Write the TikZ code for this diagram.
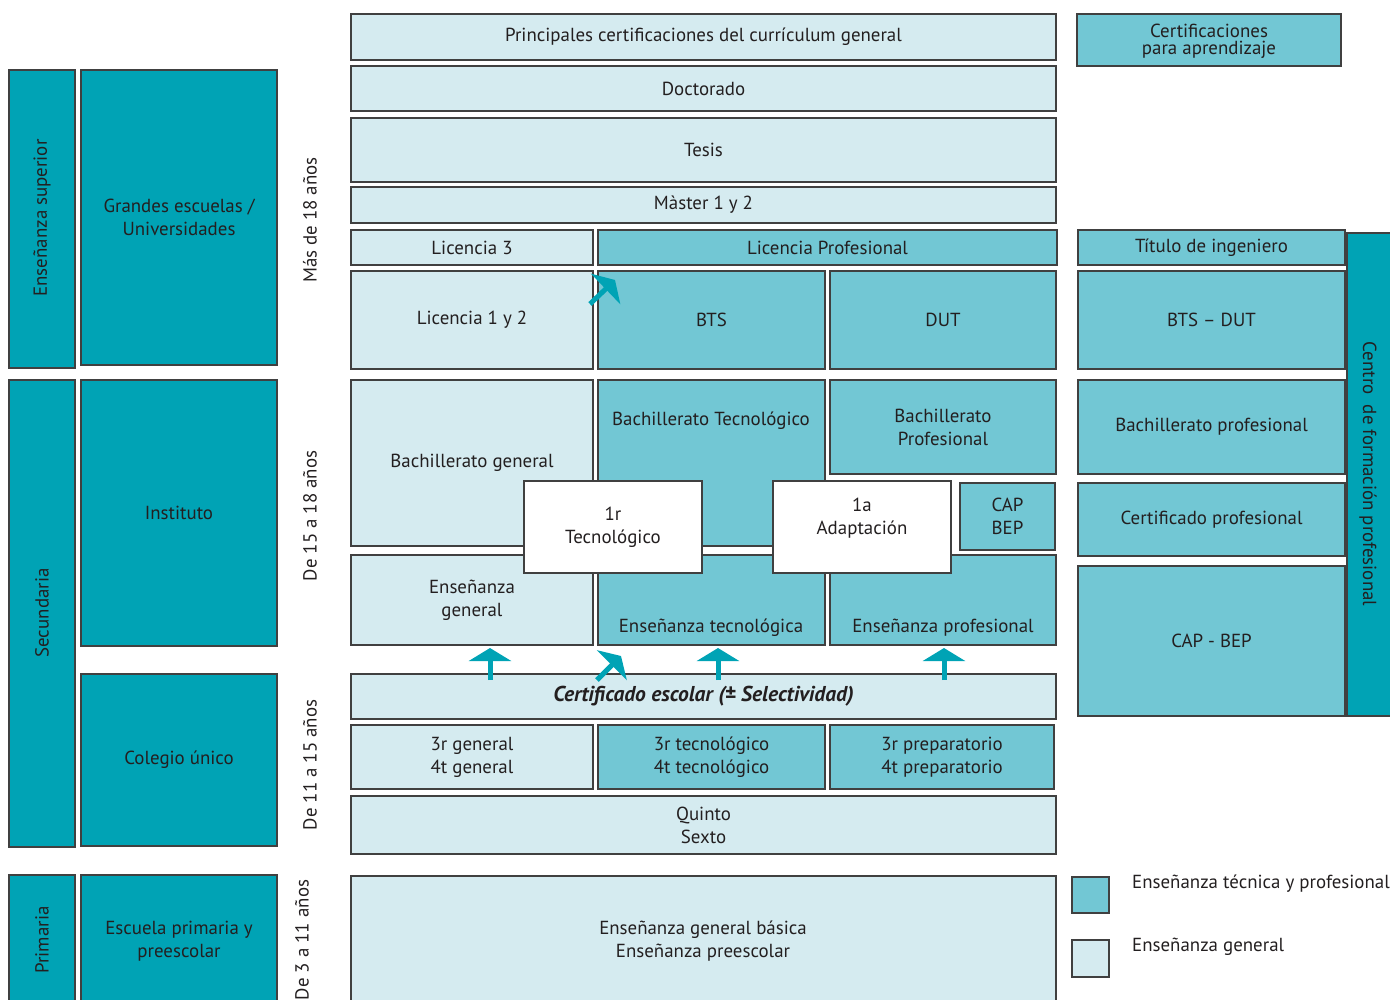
\documentclass[tikz,border=0pt]{standalone}
\usepackage{fontspec}
\setmainfont{PT Sans}
\usetikzlibrary{arrows.meta}
\definecolor{dk}{HTML}{00A3B5}
\definecolor{md}{HTML}{72C7D4}
\definecolor{lt}{HTML}{D5EBF0}
\definecolor{bd}{HTML}{404040}
\definecolor{tx}{HTML}{231F20}
\newcommand\fs{\fontsize{18.9}{23}\selectfont}
\newcommand\mybox[7]{%
  \node[#6, minimum width={#4-#2}, minimum height={#5-#3}] (#1) at ({(#2+#4)/2},{(#3+#5)/2}) {#7};}
\tikzset{
  bx/.style={draw=bd, line width=1.3pt, inner sep=0pt, outer sep=0pt, align=center, text=tx, font=\fs},
  dkb/.style={bx, fill=dk},
  mdb/.style={bx, fill=md},
  ltb/.style={bx, fill=lt},
  whb/.style={bx, fill=white},
  txt/.style={inner sep=0pt, align=center, text=tx, font=\fs},
  age/.style={txt, rotate=90},
  arr/.style={draw=dk, line width=5pt, -{Triangle[width=42pt,length=13pt]}},
}
\begin{document}
\begin{tikzpicture}[x=1pt,y=-1pt]
\useasboundingbox (0,0) rectangle (1390,999);
% left column
\mybox{sup}{9}{70}{75}{368}{dkb}{}
\node[age] (supt) at (42,218) {Enseñanza superior};
\mybox{gran}{81}{70}{277}{365}{dkb}{Grandes escuelas /\\Universidades}
\mybox{sec}{9}{380}{75}{847}{dkb}{}
\node[age] (sect) at (42,613) {Secundaria};
\mybox{inst}{81}{380}{277}{646}{dkb}{Instituto}
\mybox{col}{81}{674}{277}{846}{dkb}{Colegio único}
\mybox{prim}{9}{875}{75}{1010}{dkb}{}
\node[age] (primt) at (42,940) {Primaria};
\mybox{esc}{81}{875}{277}{1010}{dkb}{}
\node[txt] (esct) at (179,941) {Escuela primaria y\\preescolar};
% ages
\node[age] (age1) at (310,220) {Más de 18 años};
\node[age] (age2) at (310,516) {De 15 a 18 años};
\node[age] (age3) at (310,765) {De 11 a 15 años};
\node[age] (age4) at (302,940) {De 3 a 11 años};
% main
\mybox{cert}{351}{14}{1056}{60}{ltb}{Principales certificaciones del currículum general}
\mybox{aprend}{1077}{14}{1341}{66}{mdb}{}
\node[txt, font=\fontsize{18.9}{17}\selectfont] (aprendt) at (1209,41) {Certificaciones\\para aprendizaje};
\mybox{doct}{351}{66}{1056}{111}{ltb}{Doctorado}
\mybox{tesis}{351}{118}{1056}{182}{ltb}{Tesis}
\mybox{master}{351}{187}{1056}{223}{ltb}{Màster 1 y 2}
\mybox{lic3}{351}{230}{593}{265}{ltb}{Licencia 3}
\mybox{licpro}{598}{230}{1057}{265}{mdb}{Licencia Profesional}
\mybox{centro}{1347}{233}{1400}{716}{dkb}{}
\node[txt, rotate=-90] (centrot) at (1368,474) {Centro\ \ de formación profesional};
\mybox{ting}{1078}{230}{1345}{265}{mdb}{Título de ingeniero}
\mybox{lic12}{351}{271}{593}{369}{ltb}{Licencia 1 y 2}
\mybox{bts}{598}{271}{825}{369}{mdb}{BTS}
\mybox{dut}{830}{271}{1056}{369}{mdb}{DUT}
\mybox{btsdut}{1078}{271}{1345}{369}{mdb}{BTS -- DUT}
\mybox{bachg}{351}{380}{593}{546}{ltb}{Bachillerato general}
\mybox{bacht}{598}{380}{825}{546}{mdb}{}
\node[txt] (bachtt) at (711,421) {Bachillerato Tecnológico};
\mybox{bachp}{830}{380}{1056}{474}{mdb}{Bachillerato\\Profesional}
\mybox{cap1}{960}{483}{1055}{550}{mdb}{CAP\\BEP}
\mybox{bachpr}{1078}{380}{1345}{474}{mdb}{Bachillerato profesional}
\mybox{certpro}{1078}{483}{1345}{556}{mdb}{Certificado profesional}
\mybox{capbep}{1078}{566}{1345}{716}{mdb}{CAP - BEP}
\mybox{ensg}{351}{555}{593}{645}{ltb}{Enseñanza\\general}
\mybox{enst}{598}{555}{825}{645}{mdb}{}
\node[txt] (enstt) at (711,628) {Enseñanza tecnológica};
\mybox{ensp}{830}{555}{1056}{645}{mdb}{}
\node[txt] (enspt) at (943,628) {Enseñanza profesional};
\mybox{tec1}{524}{481}{702}{573}{whb}{1r\\Tecnológico}
\mybox{adap}{773}{481}{951}{573}{whb}{}
\node[txt] (adapt) at (862,518) {1a\\Adaptación};
\mybox{cesc}{351}{674}{1056}{719}{ltb}{\fontsize{21.5}{23}\selectfont\bfseries\itshape Certificado escolar (± Selectividad)}
\mybox{g3}{351}{725}{593}{789}{ltb}{3r general\\4t general}
\mybox{t3}{598}{725}{825}{789}{mdb}{3r tecnológico\\4t tecnológico}
\mybox{p3}{830}{725}{1054}{789}{mdb}{3r preparatorio\\4t preparatorio}
\mybox{qs}{351}{796}{1056}{854}{ltb}{Quinto\\Sexto}
\mybox{egb}{351}{876}{1056}{1010}{ltb}{}
\node[txt] (egbt) at (703,941) {Enseñanza general básica\\Enseñanza preescolar};
% legend
\mybox{leg1}{1072}{877}{1109}{913}{mdb}{}
\node[txt, anchor=west] (leg1t) at (1132,884) {Enseñanza técnica y profesional};
\mybox{leg2}{1072}{940}{1109}{977}{ltb}{}
\node[txt, anchor=west] (leg2t) at (1132,947) {Enseñanza general};
% arrows
\coordinate (a1s) at (490,680); \coordinate (a1e) at (490,648);
\coordinate (a2s) at (718,680); \coordinate (a2e) at (718,648);
\coordinate (a3s) at (944,680); \coordinate (a3e) at (944,648);
\coordinate (d1s) at (590,304); \coordinate (d1e) at (615,280);
\coordinate (d2s) at (597,680); \coordinate (d2e) at (621,656);
\draw[arr] (a1s) -- (a1e);
\draw[arr] (a2s) -- (a2e);
\draw[arr] (a3s) -- (a3e);
\draw[arr] (d1s) -- (d1e);
\draw[arr] (d2s) -- (d2e);
\end{tikzpicture}
\end{document}
